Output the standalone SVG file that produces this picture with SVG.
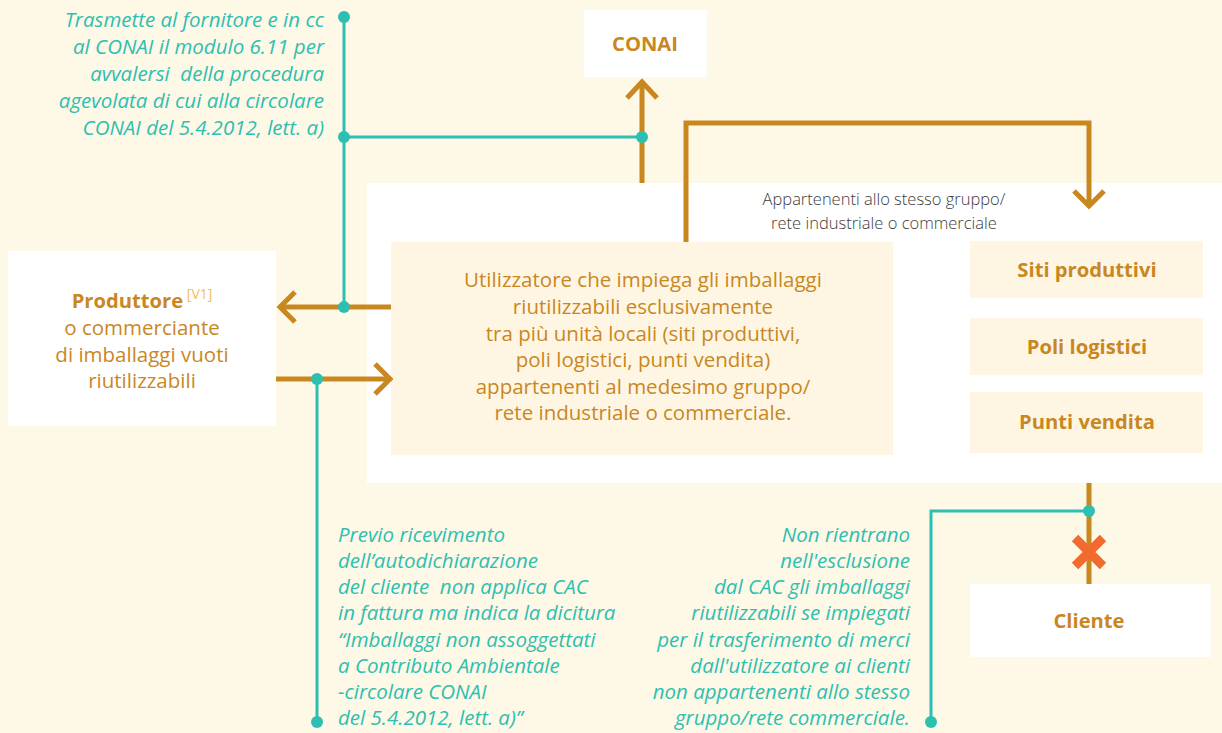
<svg xmlns="http://www.w3.org/2000/svg" width="1222" height="733" viewBox="0 0 1222 733">
<style>
.bg{fill:#FEF8E6}
.white{fill:#FFFFFF}
.cream{fill:#FEF6E3}
.gold{stroke:#C9871F;stroke-width:5;fill:none}
.teal{stroke:#2DBFB1;stroke-width:3;fill:none}
.dot{fill:#2DBFB1}
.t{font-family:"Open Sans","Noto Sans",sans-serif;font-size:20.5px;fill:#C9871F}
.tb{font-family:"Open Sans","Noto Sans",sans-serif;font-size:20.2px;font-weight:bold;fill:#C9871F}
.ti{font-family:"Open Sans","Noto Sans",sans-serif;font-size:20.5px;font-style:italic;fill:#2DBFB1}
.small{font-family:"Open Sans","Noto Sans",sans-serif;font-size:16.5px;fill:#3C3C3C;font-weight:300}
</style>
<rect class="bg" x="0" y="0" width="1222" height="733"/>

<g id="group-area">
<rect class="white" x="367" y="183" width="855" height="300"/>
<text class="small" x="884" y="205" text-anchor="middle">Appartenenti allo stesso gruppo/</text>
<text class="small" x="884" y="229" text-anchor="middle">rete industriale o commerciale</text>
</g>

<g id="conai">
<rect class="white" x="584" y="10" width="123" height="67"/>
<text class="tb" x="645" y="51" text-anchor="middle">CONAI</text>
</g>

<g id="produttore">
<rect class="white" x="8" y="251" width="268" height="175"/>
<text class="t" x="142" y="308" text-anchor="middle"><tspan font-weight="bold" font-size="20.2px">Produttore</tspan><tspan dy="-9" font-size="14" fill="#F4BC5A"> [V1]</tspan></text>
<text class="t" x="142" y="335" text-anchor="middle">o commerciante</text>
<text class="t" x="142" y="362" text-anchor="middle">di imballaggi vuoti</text>
<text class="t" x="142" y="388" text-anchor="middle">riutilizzabili</text>
</g>

<g id="utilizzatore">
<rect class="cream" x="391" y="242" width="502" height="213"/>
<text class="t" x="643" y="287" text-anchor="middle">Utilizzatore che impiega gli imballaggi</text>
<text class="t" x="643" y="314" text-anchor="middle">riutilizzabili esclusivamente</text>
<text class="t" x="643" y="341" text-anchor="middle">tra più unità locali (siti produttivi,</text>
<text class="t" x="643" y="367" text-anchor="middle">poli logistici, punti vendita)</text>
<text class="t" x="643" y="394" text-anchor="middle">appartenenti al medesimo gruppo/</text>
<text class="t" x="643" y="420" text-anchor="middle">rete industriale o commerciale.</text>
</g>

<g id="siti">
<rect class="cream" x="970" y="241" width="233" height="57"/>
<text class="tb" x="1087" y="277" text-anchor="middle">Siti produttivi</text>
</g>
<g id="poli">
<rect class="cream" x="970" y="318" width="233" height="57"/>
<text class="tb" x="1087" y="354" text-anchor="middle">Poli logistici</text>
</g>
<g id="punti">
<rect class="cream" x="970" y="392" width="233" height="61"/>
<text class="tb" x="1087" y="429" text-anchor="middle">Punti vendita</text>
</g>

<g id="cliente">
<rect class="white" x="970" y="584" width="241" height="73"/>
<text class="tb" x="1089" y="628" text-anchor="middle">Cliente</text>
</g>

<g id="connectors">
<path class="gold" d="M642 183 V82"/>
<path class="gold" d="M627 98 L642 82 L657 98"/>
<path class="gold" d="M686 242 V123 H1089 V205"/>
<path class="gold" d="M1074 191 L1089 206 L1104 191"/>
<path class="gold" d="M391 307 H280"/>
<path class="gold" d="M295 292 L280 307 L295 322"/>
<path class="gold" d="M276 379 H390"/>
<path class="gold" d="M375 364 L390 379 L375 394"/>
<path class="gold" d="M1089 483 V584"/>
<path d="M1075 538 L1103 566 M1103 538 L1075 566" stroke="#F26A2E" stroke-width="9" fill="none"/>
<path class="teal" d="M344 17 V307"/>
<path class="teal" d="M344 137 H642"/>
<path class="teal" d="M317 379 V722"/>
<path class="teal" d="M1089 511 H931 V722"/>
<circle class="dot" cx="344" cy="17" r="6"/>
<circle class="dot" cx="344" cy="137" r="6"/>
<circle class="dot" cx="642" cy="137" r="6"/>
<circle class="dot" cx="344" cy="307" r="6"/>
<circle class="dot" cx="317" cy="379" r="6"/>
<circle class="dot" cx="317" cy="722" r="6"/>
<circle class="dot" cx="1089" cy="511" r="6"/>
<circle class="dot" cx="931" cy="722" r="6"/>
</g>

<g id="note-top">
<text class="ti" x="324" y="27" text-anchor="end">Trasmette al fornitore e in cc</text>
<text class="ti" x="324" y="54" text-anchor="end">al CONAI il modulo 6.11 per</text>
<text class="ti" x="324" y="81" text-anchor="end">avvalersi&#160; della procedura</text>
<text class="ti" x="324" y="108" text-anchor="end">agevolata di cui alla circolare</text>
<text class="ti" x="324" y="135" text-anchor="end">CONAI del 5.4.2012, lett. a)</text>
</g>

<g id="note-left">
<text class="ti" x="338" y="542">Previo ricevimento</text>
<text class="ti" x="338" y="568">dell’autodichiarazione</text>
<text class="ti" x="338" y="594">del cliente&#160; non applica CAC</text>
<text class="ti" x="338" y="620">in fattura ma indica la dicitura</text>
<text class="ti" x="338" y="647">“Imballaggi non assoggettati</text>
<text class="ti" x="338" y="673">a Contributo Ambientale</text>
<text class="ti" x="338" y="699">-circolare CONAI</text>
<text class="ti" x="338" y="725">del 5.4.2012, lett. a)”</text>
</g>

<g id="note-right">
<text class="ti" x="910" y="542" text-anchor="end">Non rientrano</text>
<text class="ti" x="910" y="568" text-anchor="end">nell'esclusione</text>
<text class="ti" x="910" y="594" text-anchor="end">dal CAC gli imballaggi</text>
<text class="ti" x="910" y="620" text-anchor="end">riutilizzabili se impiegati</text>
<text class="ti" x="910" y="647" text-anchor="end">per il trasferimento di merci</text>
<text class="ti" x="910" y="673" text-anchor="end">dall'utilizzatore ai clienti</text>
<text class="ti" x="910" y="699" text-anchor="end">non appartenenti allo stesso</text>
<text class="ti" x="910" y="725" text-anchor="end">gruppo/rete commerciale.</text>
</g>
</svg>
